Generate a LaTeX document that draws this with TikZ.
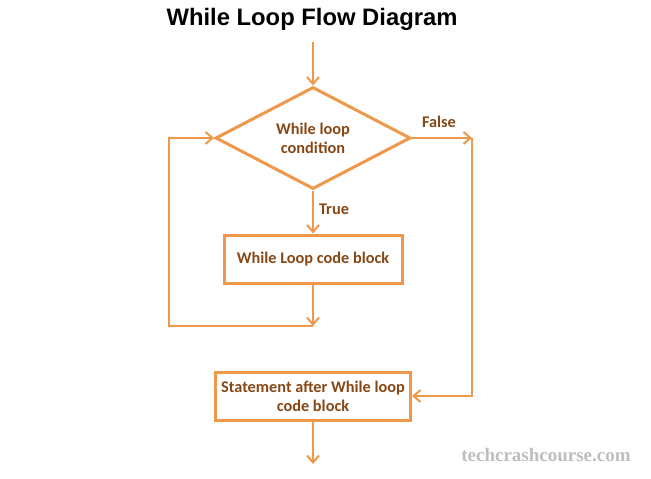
\documentclass[tikz,border=0pt]{standalone}
\usepackage{fontspec}
\setmainfont{Carlito}
\newfontfamily\titlefont{Liberation Sans}
\newfontfamily\markfont{Liberation Serif}
\usetikzlibrary{shapes.geometric,arrows.meta}
\definecolor{lineorange}{RGB}{240,152,74}
\definecolor{textbrown}{RGB}{135,72,22}
\definecolor{markgray}{RGB}{190,190,190}
\tikzset{
  flow/.style={draw=lineorange,line width=2pt,-{Straight Barb[length=7pt,width=12pt,line width=2pt]}},
  blockbox/.style={draw=lineorange,line width=3pt,inner sep=0pt,text=textbrown,font=\fontsize{16.3}{19}\selectfont\bfseries,align=center},
  condshape/.style={diamond,draw=lineorange,line width=3pt,inner sep=0pt,shape aspect=2,minimum width=195,minimum height=102,text=textbrown,font=\fontsize{16.3}{19}\selectfont\bfseries,align=center},
  lbl/.style={text=textbrown,font=\fontsize{16.3}{19}\selectfont\bfseries,inner sep=0pt}
}
\begin{document}
\begin{tikzpicture}[x=1pt,y=-1pt]
\useasboundingbox[fill=white] (0,0) rectangle (651,479);
\node[font=\titlefont\fontsize{23.8}{26}\selectfont\bfseries,inner sep=0pt] (title) at (312,19) {While Loop Flow Diagram};
\coordinate (start) at (313,42);
\node[condshape] (cond) at (313,138) {While loop\\condition};
\node[blockbox,minimum width=178,minimum height=48] (body) at (313,259) {While Loop code block};
\node[blockbox,minimum width=195,minimum height=48] (after) at (313,396) {Statement after While loop\\code block};
\coordinate (join) at (313,326);
\coordinate (lc) at (169,326);
\coordinate (rc) at (472,138);
\coordinate (endp) at (313,464);
\draw[flow] (start) -- (cond.north);
\draw[flow] (cond.south) -- (body.north);
\draw[flow] (body.south) -- (join);
\draw[flow] (join) -- (lc) |- (cond.west);
\draw[flow] (cond.east) -- (rc);
\draw[flow] (rc) |- (after.east);
\draw[flow] (after.south) -- (endp);
\node[lbl] (true) at (334,209) {True};
\node[lbl] (false) at (439,122) {False};
\node[text=markgray,font=\markfont\fontsize{19}{22}\selectfont\bfseries,inner sep=0pt] (mark) at (546,455) {techcrashcourse.com};
\end{tikzpicture}
\end{document}
